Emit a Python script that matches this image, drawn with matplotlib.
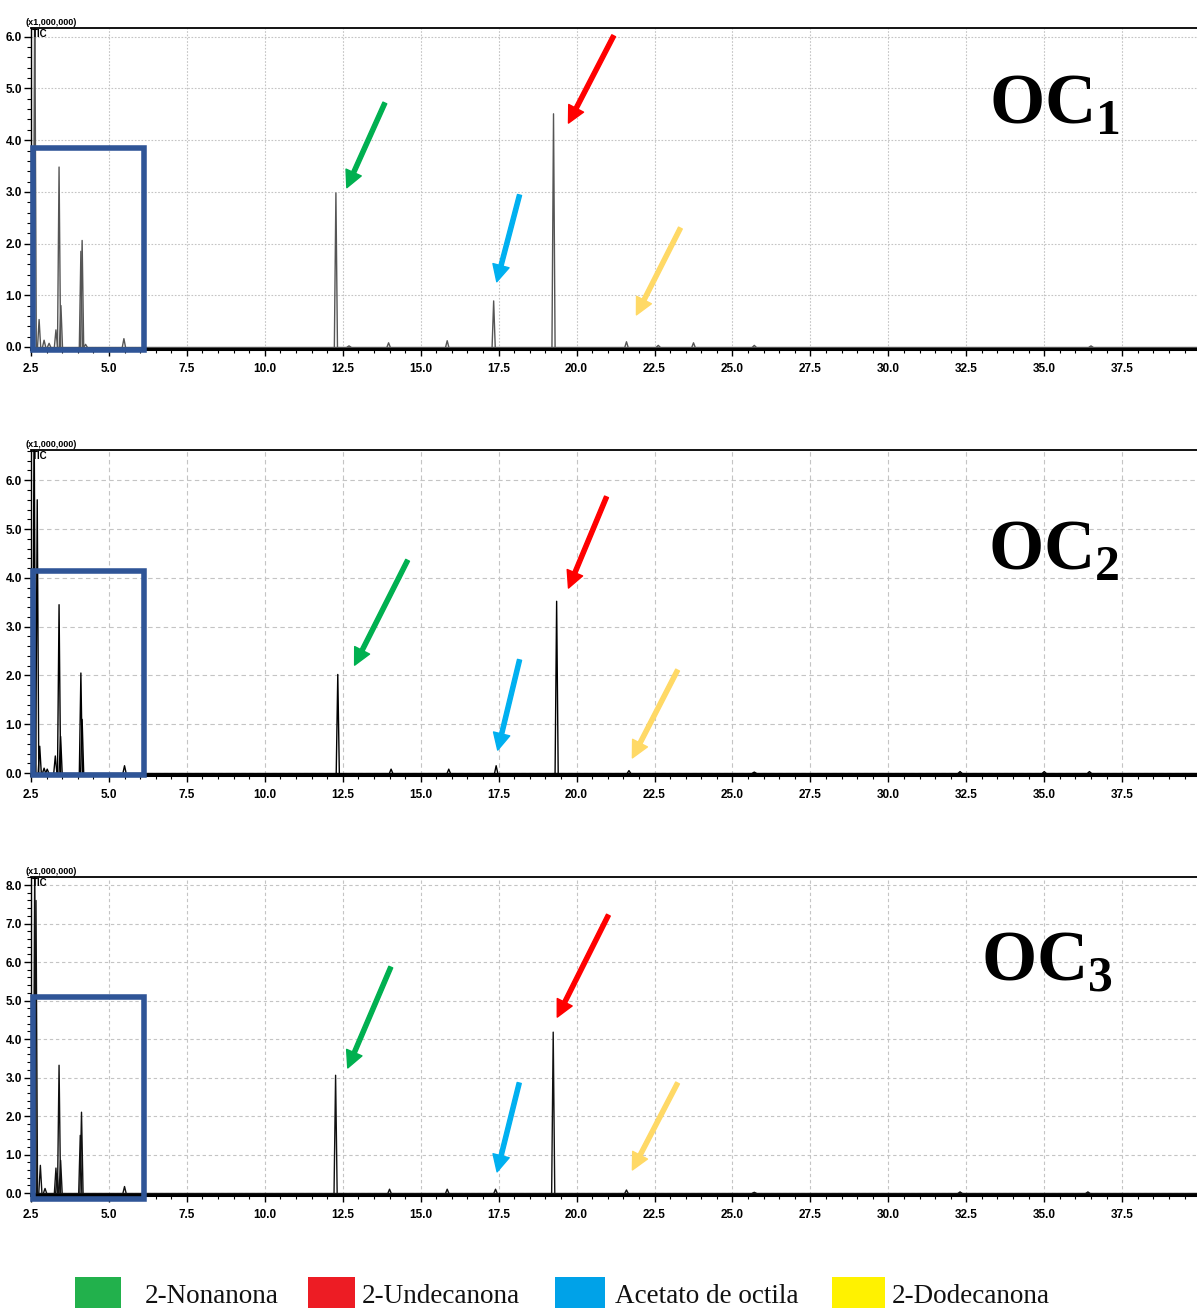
import matplotlib
matplotlib.use("Agg")
import matplotlib.pyplot as plt
from matplotlib.patches import Rectangle
from matplotlib.ticker import MultipleLocator, FormatStrFormatter

plt.rcParams['mathtext.fontset'] = 'custom'
plt.rcParams['mathtext.rm'] = 'Liberation Serif'
plt.rcParams['mathtext.bf'] = 'Liberation Serif:bold'

TICK_FONT = 'Liberation Sans'

# ---------------- data (retention time in min, intensity x1,000,000) ----------------
oc1_t = [2.62, 2.76, 2.92, 3.08, 3.30, 3.40, 3.46, 4.10, 4.14, 4.25, 5.48, 12.28, 12.70,
         13.97, 15.85, 17.34, 19.26, 21.60, 22.62, 23.75, 25.70, 36.50]
oc1_h = [7.00, 0.53, 0.13, 0.07, 0.33, 3.48, 0.80, 1.85, 2.06, 0.05, 0.16, 2.98, 0.02,
         0.08, 0.12, 0.89, 4.51, 0.10, 0.03, 0.08, 0.03, 0.02]

oc2_t = [2.60, 2.70, 2.78, 2.92, 3.02, 3.28, 3.40, 3.45, 4.10, 4.14, 5.50, 12.34, 14.05,
         15.90, 17.42, 19.36, 21.68, 25.70, 32.30, 35.00, 36.45]
oc2_h = [7.50, 5.60, 0.55, 0.10, 0.08, 0.35, 3.45, 0.75, 2.05, 1.10, 0.15, 2.02, 0.08,
         0.08, 0.15, 3.52, 0.05, 0.02, 0.03, 0.03, 0.03]

oc3_t = [2.55, 2.62, 2.66, 2.80, 2.95, 3.30, 3.34, 3.40, 3.45, 4.08, 4.12, 5.50, 12.27,
         14.00, 15.85, 17.40, 19.25, 21.60, 25.70, 32.30, 36.40]
oc3_h = [0.70, 8.60, 7.60, 0.72, 0.12, 0.65, 0.50, 3.32, 0.85, 1.50, 2.10, 0.17, 3.06,
         0.10, 0.10, 0.10, 4.18, 0.08, 0.02, 0.03, 0.03]

panel_names = ['1', '2', '3']
y_max = [6.17, 6.62, 8.21]

compounds = ['2-Nonanona', '2-Undecanona', 'Acetato de octila', '2-Dodecanona']
legend_colors = ['#22B14C', '#ED1C24', '#00A2E8', '#FFF200']
arrow_colors = ['#00B050', '#FF0000', '#00B0F0', '#FFD966']

# arrow (tail, tip) per panel in data coords, order: nonanona, undecanona, acetato, dodecanona
arrows = [
    [((13.85, 4.72), (12.63, 3.08)), ((21.19, 6.02), (19.74, 4.33)),
     ((18.17, 2.94), (17.44, 1.26)), ((23.33, 2.30), (21.92, 0.62))],
    [((14.58, 4.36), (12.88, 2.21)), ((20.96, 5.66), (19.74, 3.79)),
     ((18.17, 2.32), (17.47, 0.47)), ((23.24, 2.11), (21.79, 0.31))],
    [((14.04, 5.87), (12.66, 3.25)), ((21.02, 7.22), (19.38, 4.57)),
     ((18.16, 2.86), (17.45, 0.55)), ((23.24, 2.86), (21.79, 0.60))],
]
box_top = [3.85, 4.14, 5.09]
box_bottom = [-0.05, -0.05, -0.15]

series = [(oc1_t, oc1_h), (oc2_t, oc2_h), (oc3_t, oc3_h)]
line_colors = ['#555555', '#000000', '#111111']
grid_styles = [(0, (1.5, 1.5)), (0, (4, 3)), (0, (3, 2.5))]

# ---------------- figure ----------------
W, H = 1197, 1308
fig = plt.figure(figsize=(W / 100, H / 100), dpi=100)

def px_rect(left, top, right, bottom):
    return [left / W, 1 - bottom / H, (right - left) / W, (bottom - top) / H]

rects = [px_rect(31, 28, 1197, 349), px_rect(31, 450, 1197, 775), px_rect(31, 877, 1197, 1195)]
oc_pos = [(0.934, 0.703), (0.934, 0.633), (0.928, 0.678)]

half_w = 0.05
for i, ax_rect in enumerate(rects):
    ax = fig.add_axes(ax_rect)
    t, h = series[i]
    ax.plot([2.5, 40], [0, 0], color=line_colors[i], lw=1.0)
    for tt, hh in zip(t, h):
        ax.plot([tt - half_w, tt, tt + half_w], [0, hh, 0], color=line_colors[i], lw=1.0)
    ax.set_xlim(2.5, 39.9)
    ax.set_ylim(-0.04 if i < 2 else -0.05, y_max[i])

    ax.xaxis.set_major_locator(MultipleLocator(2.5))
    ax.xaxis.set_minor_locator(MultipleLocator(0.5))
    ax.yaxis.set_major_locator(MultipleLocator(1.0))
    ax.yaxis.set_minor_locator(MultipleLocator(0.2))
    ax.xaxis.set_major_formatter(FormatStrFormatter('%.1f'))
    ax.yaxis.set_major_formatter(FormatStrFormatter('%.1f'))
    ax.tick_params(axis='both', which='major', direction='out', length=5, width=1,
                   labelsize=8.5, pad=1.5)
    ax.tick_params(axis='both', which='minor', direction='out', length=3, width=0.8)
    ax.tick_params(axis='x', which='major', pad=5)
    for lab in ax.get_xticklabels() + ax.get_yticklabels():
        lab.set_family(TICK_FONT)
        lab.set_fontweight('bold')
    ax.grid(True, which='major', color='#c4c4c4', lw=0.8, ls=grid_styles[i])
    ax.spines['right'].set_visible(False)
    ax.spines['bottom'].set_linewidth(2.2)
    ax.spines['top'].set_linewidth(1.3)
    ax.spines['left'].set_linewidth(1.0)

    ax.text(-0.005, 1.004, '(x1,000,000)', transform=ax.transAxes, ha='left', va='bottom',
            fontsize=6.5, fontweight='bold', family=TICK_FONT)
    ax.text(0.001, 0.997, 'TIC', transform=ax.transAxes, ha='left', va='top',
            fontsize=7, fontweight='bold', family=TICK_FONT)

    ax.add_patch(Rectangle((2.57, box_bottom[i]), 6.12 - 2.57, box_top[i] - box_bottom[i],
                           fill=False, edgecolor='#2F5597', lw=4.0, clip_on=False, zorder=5))

    for (tail, tip), col in zip(arrows[i], arrow_colors):
        ax.annotate('', xy=tip, xytext=tail,
                    arrowprops=dict(arrowstyle='simple,head_length=1.2,head_width=1.2,tail_width=0.3',
                                    color=col, mutation_scale=10, shrinkA=0, shrinkB=0),
                    zorder=6)

    ax.text(oc_pos[i][0], oc_pos[i][1], r'$\mathbf{OC}_{\mathbf{%s}}$' % panel_names[i],
            transform=ax.transAxes, ha='right', va='baseline', fontsize=51)

# ---------------- legend ----------------
sq_left = [75, 308, 555, 832]
sq_w = [46, 47, 50, 53]
txt_left = [145, 362, 615, 892]
for c, name, xl, w, xt in zip(legend_colors, compounds, sq_left, sq_w, txt_left):
    fig.patches.append(Rectangle((xl / W, 0), w / W, (1308 - 1277) / H, transform=fig.transFigure,
                                 facecolor=c, edgecolor='none'))
    fig.text(xt / W, 1 - 1303 / H, name, ha='left', va='baseline', fontsize=19.5,
             family='Liberation Serif', color='#111111')

fig.savefig('out.png', dpi=100)
